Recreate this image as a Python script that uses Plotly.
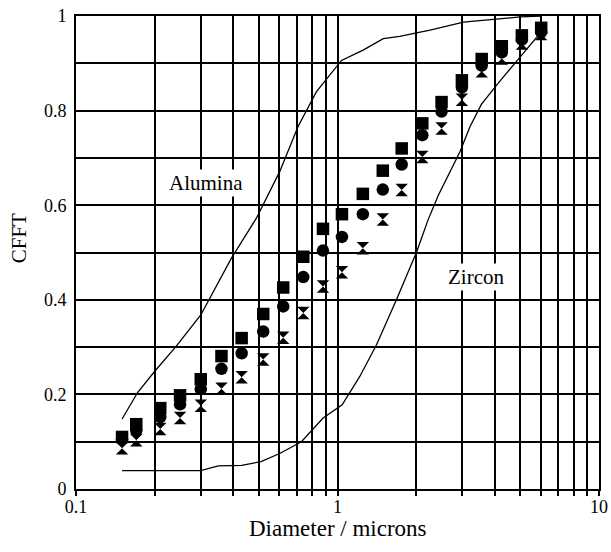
import plotly.graph_objects as go

# ---- data ----
diam = [0.15, 0.17, 0.21, 0.25, 0.30, 0.36, 0.43, 0.52, 0.62, 0.74, 0.88,
        1.04, 1.25, 1.49, 1.76, 2.11, 2.50, 2.99, 3.56, 4.25, 5.07, 6.01]

cfft_square = [0.110, 0.137, 0.171, 0.198, 0.232, 0.281, 0.319, 0.370, 0.426, 0.491, 0.550,
               0.581, 0.624, 0.673, 0.720, 0.773, 0.818, 0.864, 0.909, 0.936, 0.959, 0.975]
cfft_circle = [0.105, 0.124, 0.152, 0.179, 0.211, 0.254, 0.287, 0.333, 0.386, 0.448, 0.504,
               0.533, 0.581, 0.633, 0.686, 0.748, 0.798, 0.849, 0.895, 0.923, 0.950, 0.966]
cfft_hourglass = [0.086, 0.103, 0.127, 0.150, 0.176, 0.212, 0.236, 0.274, 0.320, 0.372, 0.428,
                  0.458, 0.509, 0.570, 0.632, 0.702, 0.762, 0.823, 0.883, 0.910, 0.942, 0.962]

alumina_x = [0.15, 0.172, 0.20, 0.241, 0.30, 0.37, 0.393, 0.489, 0.601, 0.706, 0.831,
             1.036, 1.253, 1.496, 1.73, 2.07, 2.26, 3.03, 4.99, 6.0]
alumina_y = [0.148, 0.204, 0.249, 0.301, 0.368, 0.459, 0.488, 0.572, 0.671, 0.766, 0.840,
             0.906, 0.928, 0.952, 0.957, 0.966, 0.970, 0.987, 0.998, 1.0]

zircon_x = [0.15, 0.30, 0.35, 0.43, 0.51, 0.601, 0.728, 0.881, 1.042, 1.217, 1.41, 1.68,
            2.01, 2.22, 2.43, 2.94, 3.21, 3.55, 4.06, 5.0, 6.0]
zircon_y = [0.039, 0.039, 0.049, 0.050, 0.058, 0.075, 0.100, 0.150, 0.178, 0.238, 0.305, 0.400,
            0.502, 0.569, 0.621, 0.713, 0.766, 0.813, 0.854, 0.913, 0.966]

x_tickvals = [0.1, 0.2, 0.3, 0.4, 0.5, 0.6, 0.7, 0.8, 0.9,
              1, 2, 3, 4, 5, 6, 7, 8, 9, 10]
x_ticktext = ["0.1", "", "", "", "", "", "", "", "",
              "1", "", "", "", "", "", "", "", "", "10"]
y_tickvals = [0, 0.1, 0.2, 0.3, 0.4, 0.5, 0.6, 0.7, 0.8, 0.9, 1.0]
y_ticktext = ["0", "", "0.2", "", "0.4", "", "0.6", "", "0.8", "", "1"]

FONT = "Liberation Serif, Times New Roman, serif"

fig = go.Figure()
fig.add_trace(go.Scatter(x=alumina_x, y=alumina_y, mode="lines",
                         line=dict(color="black", width=1.3), showlegend=False))
fig.add_trace(go.Scatter(x=zircon_x, y=zircon_y, mode="lines",
                         line=dict(color="black", width=1.3), showlegend=False))
fig.add_trace(go.Scatter(x=diam, y=cfft_hourglass, mode="markers",
                         marker=dict(symbol="hourglass", size=12.5, color="black"), showlegend=False))
fig.add_trace(go.Scatter(x=diam, y=cfft_circle, mode="markers",
                         marker=dict(symbol="circle", size=12.5, color="black"), showlegend=False))
fig.add_trace(go.Scatter(x=diam, y=cfft_square, mode="markers",
                         marker=dict(symbol="square", size=12.5, color="black"), showlegend=False))

fig.update_layout(
    width=611, height=552,
    margin=dict(l=76, r=12, t=16, b=63),
    paper_bgcolor="white", plot_bgcolor="white",
    font=dict(family=FONT, color="black", size=18),
    xaxis=dict(type="log", range=[-1, 1], tickvals=x_tickvals, ticktext=x_ticktext,
               showgrid=True, gridcolor="black", gridwidth=1.6,
               showline=True, linecolor="black", linewidth=1.6, mirror=True,
               ticks="outside", ticklen=5, tickwidth=1.6, tickcolor="black",
               ticklabelstandoff=-4, automargin=False,
               tickfont=dict(family=FONT, size=18, color="black"), zeroline=False),
    yaxis=dict(range=[0, 1], tickvals=y_tickvals, ticktext=y_ticktext,
               showgrid=True, gridcolor="black", gridwidth=1.6,
               showline=True, linecolor="black", linewidth=1.6, mirror=True,
               ticks="", automargin=False, ticklabelstandoff=4,
               tickfont=dict(family=FONT, size=18, color="black"), zeroline=False),
    annotations=[
        dict(x=-0.502, y=0.646, xref="x", yref="y", text="Alumina", showarrow=False,
             font=dict(family=FONT, size=21, color="black"), bgcolor="white"),
        dict(x=0.530, y=0.448, xref="x", yref="y", text="Zircon", showarrow=False,
             font=dict(family=FONT, size=21, color="black"), bgcolor="white"),
        dict(x=0.5, y=-0.084, xref="paper", yref="paper", text="Diameter / microns",
             showarrow=False, xanchor="center", yanchor="middle",
             font=dict(family=FONT, size=23, color="black")),
        dict(x=-0.110, y=0.531, xref="paper", yref="paper", text="CFFT", textangle=-90,
             showarrow=False, xanchor="center", yanchor="middle",
             font=dict(family=FONT, size=21, color="black")),
    ],
)

fig.write_html("out.html")
